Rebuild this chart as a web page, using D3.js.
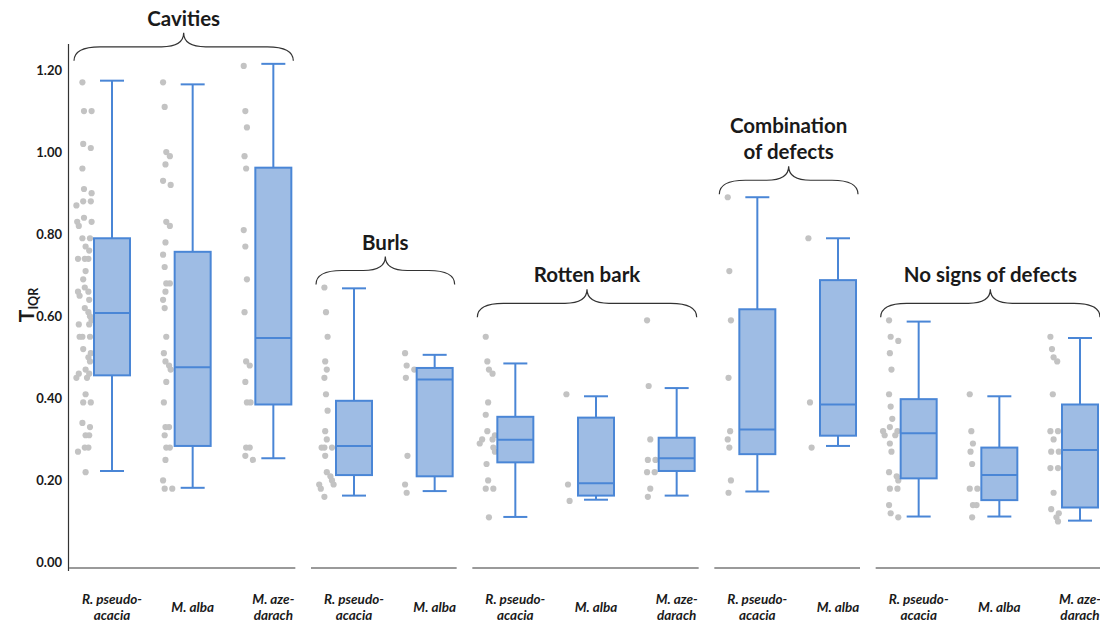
<!DOCTYPE html>
<html><head><meta charset="utf-8">
<script src="https://cdn.jsdelivr.net/npm/d3@7"></script>
<style>body{margin:0;background:#fff;} svg{display:block;font-family:Lato,"Open Sans",sans-serif;}</style>
</head><body>
<svg id="chart" width="1100" height="623"></svg>
<script>
// ---- data ----
const groups = ["Cavities", "Burls", "Rotten bark", "Combination|of defects", "No signs of defects"];
const groupOf = [0,0,0,1,1,2,2,2,3,3,4,4,4];
const species = ["R. pseudo-|acacia","M. alba","M. aze-|darach","R. pseudo-|acacia","M. alba",
  "R. pseudo-|acacia","M. alba","M. aze-|darach","R. pseudo-|acacia","M. alba",
  "R. pseudo-|acacia","M. alba","M. aze-|darach"];
const whiskerLow  = [0.223,0.182,0.254,0.163,0.174,0.111,0.153,0.163,0.173,0.284,0.112,0.112,0.102];
const q1          = [0.456,0.284,0.385,0.213,0.210,0.244,0.163,0.223,0.264,0.309,0.205,0.152,0.134];
const median      = [0.608,0.476,0.547,0.284,0.446,0.299,0.193,0.254,0.324,0.385,0.315,0.213,0.274];
const q3          = [0.790,0.757,0.962,0.394,0.474,0.355,0.353,0.304,0.617,0.688,0.398,0.280,0.385];
const whiskerHigh = [1.174,1.165,1.215,0.668,0.506,0.485,0.405,0.425,0.890,0.790,0.587,0.405,0.547];
const points = [
  [1.17,1.10,1.10,1.02,1.01,0.96,0.91,0.90,0.88,0.88,0.87,0.84,0.83,0.83,0.82,0.79,0.79,0.77,0.76,0.74,0.74,0.74,0.71,0.69,0.67,0.66,0.66,0.65,0.64,0.62,0.61,0.60,0.59,0.58,0.58,0.55,0.55,0.55,0.52,0.51,0.50,0.49,0.47,0.46,0.46,0.45,0.45,0.41,0.39,0.39,0.34,0.33,0.31,0.31,0.28,0.28,0.27,0.22],
  [1.17,1.11,1.00,0.99,0.97,0.93,0.92,0.83,0.82,0.78,0.75,0.72,0.68,0.68,0.66,0.64,0.62,0.55,0.51,0.49,0.48,0.47,0.44,0.39,0.33,0.33,0.31,0.28,0.28,0.25,0.20,0.18,0.18],
  [1.21,1.10,1.06,0.99,0.96,0.81,0.77,0.69,0.61,0.49,0.48,0.44,0.39,0.39,0.28,0.28,0.26,0.25],
  [0.67,0.61,0.55,0.49,0.47,0.45,0.41,0.37,0.32,0.30,0.28,0.28,0.28,0.26,0.22,0.21,0.20,0.19,0.19,0.18,0.16],
  [0.51,0.48,0.47,0.45,0.26,0.19,0.17],
  [0.55,0.49,0.47,0.46,0.39,0.36,0.32,0.31,0.30,0.30,0.29,0.28,0.27,0.24,0.20,0.18,0.18,0.11],
  [0.41,0.19,0.15],
  [0.59,0.43,0.30,0.25,0.25,0.22,0.22,0.18,0.16],
  [0.89,0.71,0.59,0.45,0.32,0.30,0.28,0.20,0.17],
  [0.79,0.39,0.28],
  [0.59,0.55,0.54,0.51,0.47,0.41,0.38,0.35,0.33,0.32,0.32,0.31,0.31,0.29,0.27,0.22,0.21,0.20,0.18,0.18,0.14,0.12,0.11],
  [0.41,0.32,0.29,0.27,0.24,0.18,0.18,0.14,0.14,0.11],
  [0.55,0.52,0.50,0.49,0.41,0.32,0.32,0.30,0.27,0.27,0.23,0.23,0.17,0.13,0.12,0.11,0.10]
];
const yTicks = [0, 0.2, 0.4, 0.6, 0.8, 1.0, 1.2];
const yTitle = "T";
const yTitleSub = "IQR";

// ---- layout ----
const svg = d3.select("#chart");
const ids = d3.range(species.length);
const x = d3.scalePoint().domain(ids).range([112, 1080]);
const y = d3.scaleLinear().domain([0, 1.2]).range([562.5, 70]);
const boxW = 36, capW = 24, dotOff = -28;
const blue = "#4a86d6", fill = "#9ebce4", dotCol = "#c3c3c3", ink = "#1a1a1a";

// y axis
const yAxis = d3.axisLeft(y).tickValues(yTicks).tickFormat(d3.format(".2f")).tickSize(0).tickPadding(6);
const ga = svg.append("g").attr("transform", "translate(68,0)").call(yAxis);
ga.select(".domain").remove();
ga.selectAll("text").attr("font-size", 13).attr("font-weight", 700).attr("fill", ink)
  .attr("font-family", "Lato, sans-serif");
svg.append("line").attr("x1", 68.5).attr("x2", 68.5).attr("y1", 44).attr("y2", 571)
  .attr("stroke", "#333").attr("stroke-width", 1.2);

// y title
const yt = svg.append("text").attr("transform", "translate(34,305) rotate(-90)")
  .attr("text-anchor", "middle").attr("font-weight", 700).attr("fill", ink);
yt.append("tspan").attr("font-size", 21).text(yTitle);
yt.append("tspan").attr("font-size", 12.5).attr("dy", 4).text(yTitleSub);

// group baselines
const groupIdx = groups.map((g, gi) => ids.filter(i => groupOf[i] === gi));
groupIdx.forEach(list => {
  svg.append("line").attr("x1", x(list[0]) - 43).attr("x2", x(list[list.length - 1]) + 22)
    .attr("y1", 568).attr("y2", 568).attr("stroke", "#9a9a9a").attr("stroke-width", 2);
});

// dots
ids.forEach(i => {
  const placed = [];
  const offs = [0, 6, -6, 3, -3];
  points[i].forEach((v, k) => {
    const near = placed.filter(p => Math.abs(p - v) < 0.011).length;
    placed.push(v);
    const wob = ((k * 7) % 5 - 2) * 0.8;
    svg.append("circle").attr("cx", x(i) + dotOff + offs[near % 5] + wob).attr("cy", y(v))
      .attr("r", 3.1).attr("fill", dotCol);
  });
});

// whiskers and boxes
ids.forEach(i => {
  const cx = x(i);
  const g = svg.append("g").attr("stroke", blue).attr("stroke-width", 2).attr("fill", "none");
  g.append("line").attr("x1", cx).attr("x2", cx).attr("y1", y(whiskerHigh[i])).attr("y2", y(q3[i]));
  g.append("line").attr("x1", cx).attr("x2", cx).attr("y1", y(q1[i])).attr("y2", y(whiskerLow[i]));
  g.append("line").attr("x1", cx - capW / 2).attr("x2", cx + capW / 2).attr("y1", y(whiskerHigh[i])).attr("y2", y(whiskerHigh[i]));
  g.append("line").attr("x1", cx - capW / 2).attr("x2", cx + capW / 2).attr("y1", y(whiskerLow[i])).attr("y2", y(whiskerLow[i]));
  g.append("rect").attr("x", cx - boxW / 2).attr("y", y(q3[i])).attr("width", boxW)
    .attr("height", y(q1[i]) - y(q3[i])).attr("fill", fill);
  g.append("line").attr("x1", cx - boxW / 2).attr("x2", cx + boxW / 2).attr("y1", y(median[i])).attr("y2", y(median[i]));
});

// category labels
ids.forEach(i => {
  const lines = species[i].split("|");
  const t = svg.append("text").attr("text-anchor", "middle").attr("font-size", 13.5)
    .attr("font-weight", 700).attr("font-style", "italic").attr("fill", ink);
  const base = lines.length === 1 ? 612 : 604;
  lines.forEach((l, li) => t.append("tspan").attr("x", x(i)).attr("y", base + li * 15.5).text(l));
});

// brackets + group titles
groupIdx.forEach((list, gi) => {
  const x1 = x(list[0]) - 38, x2 = x(list[list.length - 1]) + 20;
  const xm = (x1 + x2) / 2;
  let mx = 0;
  list.forEach(i => { mx = Math.max(mx, whiskerHigh[i], d3.max(points[i])); });
  const y0 = y(mx) - 3;
  const h = 28, hm = 14, r = 26, rc = 22;
  const p = d3.path();
  p.moveTo(x1, y0);
  p.bezierCurveTo(x1, y0 - hm * 0.6, x1 + r * 0.25, y0 - hm, x1 + r, y0 - hm);
  p.lineTo(xm - rc, y0 - hm);
  p.bezierCurveTo(xm - rc * 0.25, y0 - hm, xm, y0 - hm * 1.4, xm, y0 - h);
  p.moveTo(xm, y0 - h);
  p.bezierCurveTo(xm, y0 - hm * 1.4, xm + rc * 0.25, y0 - hm, xm + rc, y0 - hm);
  p.lineTo(x2 - r, y0 - hm);
  p.bezierCurveTo(x2 - r * 0.25, y0 - hm, x2, y0 - hm * 0.6, x2, y0);
  svg.append("path").attr("d", p.toString()).attr("fill", "none").attr("stroke", "#333").attr("stroke-width", 1.2);
  const lines = groups[gi].split("|");
  const t = svg.append("text").attr("text-anchor", "middle").attr("font-size", 20.5)
    .attr("font-weight", 700).attr("fill", ink);
  const last = y0 - h - 7;
  lines.forEach((l, li) => t.append("tspan").attr("x", xm).attr("y", last - (lines.length - 1 - li) * 26).text(l));
});
</script>
</body></html>
